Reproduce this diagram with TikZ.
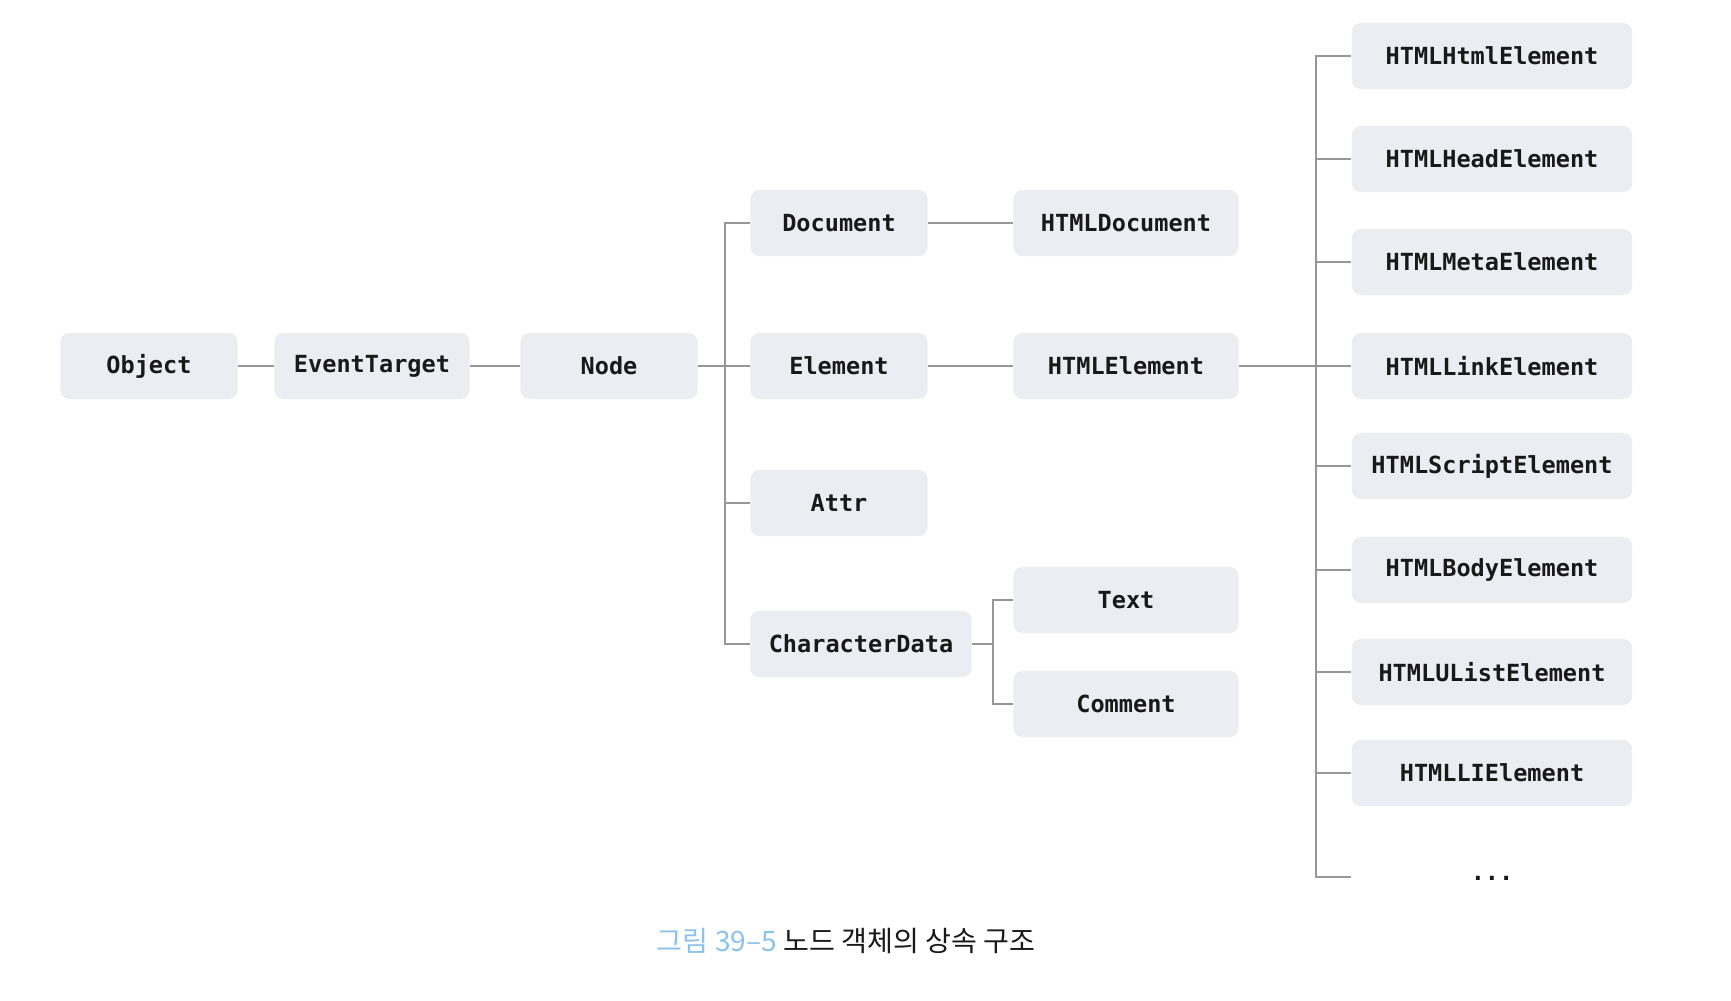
\documentclass[tikz,border=0pt]{standalone}
\usepackage{fontspec}
\setmonofont{DejaVu Sans Mono}
\newfontfamily\krfont{Noto Sans CJK KR}

\definecolor{boxfill}{RGB}{236,237,242}
\definecolor{linegray}{RGB}{150,150,155}
\definecolor{capblue}{RGB}{140,195,235}

\tikzset{
    cls/.style={fill=boxfill, rounded corners=2.5pt, minimum height=0.66cm, inner sep=0pt,
        font=\ttfamily\bfseries\fontsize{6.7}{8}\selectfont, text=black!90},
    clsS/.style={cls, minimum width=1.77cm},
    clsM/.style={cls, minimum width=2.25cm},
    clsL/.style={cls, minimum width=2.8cm},
    link/.style={draw=linegray, line width=0.45pt},
}

\begin{document}
\begin{tikzpicture}[x=0.01cm, y=-0.01cm]
    \useasboundingbox (0, 0) rectangle (1731, 1000);

    \node[clsS] (Object) at (149, 366) {Object};
    \node[clsS, minimum width=1.95cm] (EventTarget) at (372, 366) {EventTarget};
    \node[clsS] (Node) at (609, 366) {Node};

    \node[clsS] (Document) at (839, 223) {Document};
    \node[clsS] (Element) at (839, 366) {Element};
    \node[clsS] (Attr) at (839, 503) {Attr};
    \node[clsS, minimum width=2.21cm] (CharacterData) at (861, 644) {CharacterData};

    \node[clsM] (HTMLDocument) at (1126, 223) {HTMLDocument};
    \node[clsM] (HTMLElement) at (1126, 366) {HTMLElement};
    \node[clsM] (Text) at (1126, 600) {Text};
    \node[clsM] (Comment) at (1126, 704) {Comment};

    \node[clsL] (HTMLHtmlElement) at (1492, 56) {HTMLHtmlElement};
    \node[clsL] (HTMLHeadElement) at (1492, 159) {HTMLHeadElement};
    \node[clsL] (HTMLMetaElement) at (1492, 262) {HTMLMetaElement};
    \node[clsL] (HTMLLinkElement) at (1492, 366) {HTMLLinkElement};
    \node[clsL] (HTMLScriptElement) at (1492, 466) {HTMLScriptElement};
    \node[clsL] (HTMLBodyElement) at (1492, 570) {HTMLBodyElement};
    \node[clsL] (HTMLUListElement) at (1492, 672) {HTMLUListElement};
    \node[clsL] (HTMLLIElement) at (1492, 773) {HTMLLIElement};
    \node[clsL, fill=none] (moreElement) at (1492, 877) {\raisebox{-0.6ex}{...}};

    \coordinate (nodeBus) at (725, 366);
    \coordinate (charBus) at (993, 644);
    \coordinate (htmlBus) at (1316, 366);

    \draw[link] (Object.east) -- (EventTarget.west);
    \draw[link] (EventTarget.east) -- (Node.west);

    \draw[link] (Node.east) -- (Element.west);
    \draw[link] (Document.west) -| (nodeBus) |- (CharacterData.west);
    \draw[link] (nodeBus) |- (Attr.west);

    \draw[link] (Document.east) -- (HTMLDocument.west);
    \draw[link] (Element.east) -- (HTMLElement.west);

    \draw[link] (CharacterData.east) -- (charBus);
    \draw[link] (Text.west) -| (charBus) |- (Comment.west);

    \draw[link] (HTMLElement.east) -- (HTMLLinkElement.west);
    \draw[link] (HTMLHtmlElement.west) -| (htmlBus) |- (moreElement.west);
    \draw[link] (htmlBus) |- (HTMLHeadElement.west);
    \draw[link] (htmlBus) |- (HTMLMetaElement.west);
    \draw[link] (htmlBus) |- (HTMLScriptElement.west);
    \draw[link] (htmlBus) |- (HTMLBodyElement.west);
    \draw[link] (htmlBus) |- (HTMLUListElement.west);
    \draw[link] (htmlBus) |- (HTMLLIElement.west);

    \node[font=\krfont\fontsize{8}{10}\selectfont, text=black!90] (caption) at (846, 941)
        {\textcolor{capblue}{그림 39–5} 노드 객체의 상속 구조};
\end{tikzpicture}
\end{document}
